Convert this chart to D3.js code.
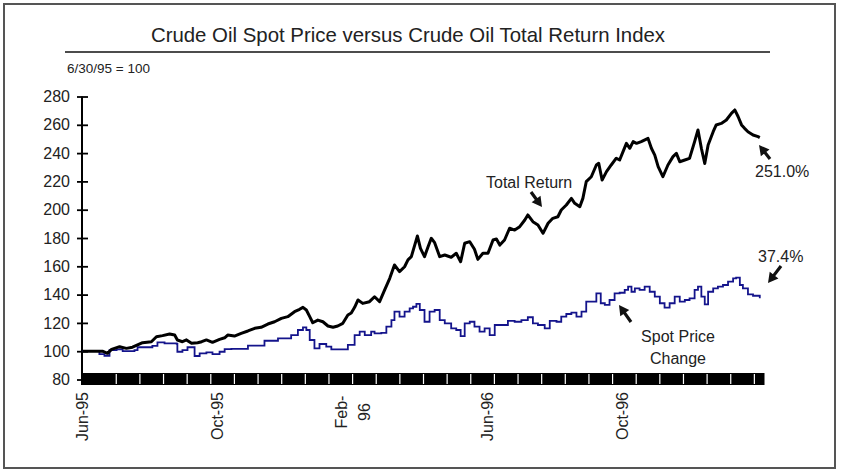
<!DOCTYPE html>
<html>
<head>
<meta charset="utf-8">
<script src="https://cdn.jsdelivr.net/npm/d3@7"></script>
<style>
  body { margin: 0; background: #fff; }
  svg { display: block; font-family: "Liberation Sans", Arial, sans-serif; }
</style>
</head>
<body>
<div id="chart"></div>
<script>
const width = 841, height = 470;

// months since 6/30/95 and index values (6/30/95 = 100)
const trMonths = [0,0.36,0.59,0.74,0.86,1.10,1.30,1.48,1.63,1.78,2.04,2.19,2.37,2.58,2.73,2.81,2.96,3.08,3.23,3.41,3.53,3.67,3.85,4.06,4.21,4.30,4.50,4.70,4.90,5.10,5.29,5.49,5.69,5.89,6.08,6.28,6.43,6.53,6.63,6.73,6.82,6.97,7.12,7.27,7.42,7.56,7.71,7.86,7.96,8.06,8.16,8.30,8.50,8.65,8.80,8.95,9.10,9.24,9.39,9.54,9.64,9.74,9.84,9.92,10.01,10.13,10.23,10.33,10.43,10.58,10.73,10.92,11.07,11.20,11.32,11.47,11.61,11.71,11.86,12.01,12.16,12.26,12.36,12.50,12.65,12.80,12.95,13.10,13.19,13.34,13.49,13.64,13.79,13.93,14.08,14.18,14.33,14.48,14.58,14.73,14.82,14.92,15.07,15.22,15.29,15.39,15.52,15.66,15.81,15.91,16.01,16.11,16.21,16.31,16.41,16.55,16.75,16.85,16.95,17.05,17.19,17.34,17.49,17.59,17.69,17.84,17.98,18.13,18.23,18.33,18.43,18.53,18.68,18.77,18.92,19.07,19.22,19.32,19.42,19.52,19.61,19.71,19.86,20.01,20.06];
const trValues = [100,100,100,98.5,101.3,103.2,102,102.8,104.4,106,106.7,110.2,111,112.2,111.4,107.9,106.7,108,105.6,106,106.7,108,106.3,108.4,109.5,111.4,110.7,112.6,114.3,116.2,116.9,119.2,120.8,123.2,124.4,127.9,129.6,131,129.1,124.4,120.1,122,120.8,117.8,116.9,117.8,119.7,125.6,127,131,136.2,133.8,135,138.5,135,143.3,151.5,160.9,156.2,159.7,164.5,166.8,175,181.4,172.7,166.8,173.4,179.8,176.7,166.8,168,166.4,169.2,163.2,176.3,177.4,172,164.9,169.2,169.2,178.6,179.3,175,178.6,186.9,185.6,188,192.7,196.3,191.5,189.2,183.3,190.4,193.9,195,199.8,203.3,208,204.5,202.1,208,219.8,223.3,231.6,232.8,221,226.9,231.6,236.4,235.1,241,246.9,243.4,248.1,246.9,248.1,250.4,243.4,238.6,230.4,223.3,231.6,237.5,239.8,233.9,235.1,236.3,248.1,256.3,243.4,232.7,245.7,255.1,259.9,261,263.4,268.1,270.5,265.7,259.9,257.5,255.1,252.8,251.6,251];

const spotMonths = [0,0.41,0.50,0.65,0.80,1.01,1.19,1.39,1.54,1.63,1.90,2.07,2.22,2.43,2.67,2.79,2.81,2.96,3.11,3.32,3.47,3.67,3.85,4.06,4.21,4.41,4.80,4.90,5.19,5.39,5.59,5.79,5.99,6.18,6.38,6.53,6.63,6.73,6.87,7.02,7.22,7.37,7.67,7.86,8.06,8.21,8.36,8.55,8.65,8.85,9.00,9.15,9.24,9.39,9.54,9.69,9.79,9.89,9.99,10.13,10.28,10.43,10.58,10.73,10.92,11.07,11.20,11.32,11.47,11.61,11.76,11.91,12.06,12.21,12.41,12.60,12.80,13.00,13.19,13.34,13.49,13.69,13.84,14.04,14.18,14.33,14.48,14.63,14.78,14.92,15.07,15.22,15.35,15.47,15.61,15.76,15.91,16.06,16.16,16.26,16.36,16.50,16.65,16.80,16.95,17.10,17.24,17.39,17.54,17.69,17.84,17.98,18.13,18.23,18.33,18.43,18.53,18.68,18.82,18.97,19.12,19.27,19.36,19.47,19.56,19.71,19.86,20.06];
const spotValues = [100,100,98,96.8,100.8,101.3,100.1,100.1,100.8,102.8,102.8,103.7,106.3,105.6,105.6,105.2,99.6,100.8,102.8,96.6,98.5,99.2,98,99.6,101.5,101.6,101.6,103.9,104,107.4,107.4,109.1,109.1,111.4,115,116.9,115,107.9,102,105.1,103.2,101.3,101.3,104.4,111.4,113.8,111.4,113.8,112.6,113,117.3,122,127.9,124.4,127.9,130.3,131.4,133.4,129.1,120.8,127.9,129.1,122,119.7,116.2,115,110.7,119.7,120.8,117.3,113.8,116.2,111.4,118.5,118.5,121.5,120.8,122,124,119.7,118.5,116.2,121.5,120.8,124.4,126.3,127.2,124.4,127.9,135,135,140.9,133.9,132.7,136.2,140.9,141.3,143.3,145.6,142,144.4,143.3,145.6,142,138.5,133.9,130.8,133.9,138.5,135,136.2,137.4,143.3,145.6,138.5,133.1,142,144.4,145.6,146.8,149.1,151.5,152,146.8,144.4,140.2,139.2,137.4];

const yTicks = [80,100,120,140,160,180,200,220,240,260,280];
const xTickMonths = [0,4,8,12,16];
const xTickLabels = [["Jun-95"],["Oct-95"],["Feb-","96"],["Jun-96"],["Oct-96"]];

const svg = d3.select("#chart").append("svg")
  .attr("width", width).attr("height", height);

// outer frame
svg.append("rect")
  .attr("x", 4).attr("y", 4).attr("width", 831).attr("height", 464)
  .attr("fill", "none").attr("stroke", "#555").attr("stroke-width", 2);

// title + rule
svg.append("text")
  .attr("x", 408).attr("y", 42)
  .attr("text-anchor", "middle")
  .attr("font-size", "20.4px").attr("fill", "#222")
  .text("Crude Oil Spot Price versus Crude Oil Total Return Index");

svg.append("line")
  .attr("x1", 65).attr("x2", 770).attr("y1", 52).attr("y2", 52)
  .attr("stroke", "#111").attr("stroke-width", 1.5);

svg.append("text")
  .attr("x", 67).attr("y", 73)
  .attr("font-size", "13.5px").attr("fill", "#222")
  .text("6/30/95 = 100");

// scales
const x = d3.scaleLinear().domain([0, 20.2]).range([82.5, 764.5]);
const y = d3.scaleLinear().domain([80, 280]).range([379.5, 96.5]);

// x axis: black band with white separators
const bandTicks = d3.range(1, 20, 0.7);
svg.append("rect")
  .attr("x", x(0) - 0.5).attr("y", 373)
  .attr("width", x(20.2) - x(0) + 0.5).attr("height", 12)
  .attr("fill", "#000");
svg.append("g")
  .selectAll("line")
  .data(bandTicks)
  .join("line")
    .attr("x1", d => x(d)).attr("x2", d => x(d))
    .attr("y1", 374).attr("y2", 384)
    .attr("stroke", "#fff").attr("stroke-width", 1.2);

// x tick labels (rotated)
const xl = svg.append("g").attr("font-size", "16px").attr("fill", "#222");
xTickMonths.forEach((m, i) => {
  const lines = xTickLabels[i];
  if (lines.length === 1) {
    xl.append("text")
      .attr("transform", `translate(${x(m)}, 392) rotate(-90)`)
      .attr("text-anchor", "end")
      .attr("dy", "0.35em")
      .text(lines[0]);
  } else {
    lines.forEach((t, j) => {
      xl.append("text")
        .attr("transform", `translate(${x(m) + (j - 0.5) * 23}, 412) rotate(-90)`)
        .attr("text-anchor", "middle")
        .attr("dy", "0.35em")
        .text(t);
    });
  }
});

// y axis
const yAxis = svg.append("g")
  .attr("class", "axis axis--y")
  .attr("transform", `translate(${x(0) - 0.5},0)`)
  .call(d3.axisLeft(y).tickValues(yTicks).tickSize(5).tickPadding(7).tickSizeOuter(0));
yAxis.select(".domain").attr("stroke", "#000").attr("stroke-width", 2)
  .attr("d", `M0,${y(280)}V385`);
yAxis.selectAll(".tick line").attr("x1", 6).attr("x2", -5).attr("stroke-width", 1.8);
yAxis.selectAll(".tick text")
  .attr("font-size", "16px").attr("fill", "#222")
  .attr("font-family", "Liberation Sans, Arial, sans-serif");

// lines
const trData = trMonths.map((m, i) => [m, trValues[i]]);
const spotData = spotMonths.map((m, i) => [m, spotValues[i]]);

svg.append("path")
  .datum(spotData)
  .attr("fill", "none")
  .attr("stroke", "#14148c")
  .attr("stroke-width", 1.8)
  .attr("d", d3.line().x(d => x(d[0])).y(d => y(d[1])).curve(d3.curveStepAfter));

svg.append("path")
  .datum(trData)
  .attr("fill", "none")
  .attr("stroke", "#000")
  .attr("stroke-width", 3)
  .attr("stroke-linejoin", "round")
  .attr("d", d3.line().x(d => x(d[0])).y(d => y(d[1])));

// annotations
const ann = svg.append("g").attr("font-size", "16px").attr("fill", "#222");
ann.append("text").attr("x", 486).attr("y", 188).text("Total Return");
ann.append("text").attr("x", 755).attr("y", 177).text("251.0%");
ann.append("text").attr("x", 758).attr("y", 262).text("37.4%");
ann.append("text").attr("x", 678).attr("y", 342).attr("text-anchor", "middle").text("Spot Price");
ann.append("text").attr("x", 678).attr("y", 364).attr("text-anchor", "middle").text("Change");

// cursor-like arrows: tail point and tip point
const arrows = [
  [[531, 192], [542, 207]],
  [[770, 159], [759, 145]],
  [[781, 266], [768, 283]],
  [[631, 322], [619, 305]]
];
arrows.forEach(([tail, tip]) => {
  const ang = Math.atan2(tip[1] - tail[1], tip[0] - tail[0]) * 180 / Math.PI;
  const len = Math.hypot(tip[0] - tail[0], tip[1] - tail[1]);
  svg.append("path")
    .attr("transform", `translate(${tip[0]},${tip[1]}) rotate(${ang})`)
    .attr("d", `M0,0 L-10,-5.5 L-10,5.5 Z M-9,-1.6 L${-len},-1.6 L${-len},1.6 L-9,1.6 Z`)
    .attr("fill", "#111");
});
</script>
</body>
</html>
